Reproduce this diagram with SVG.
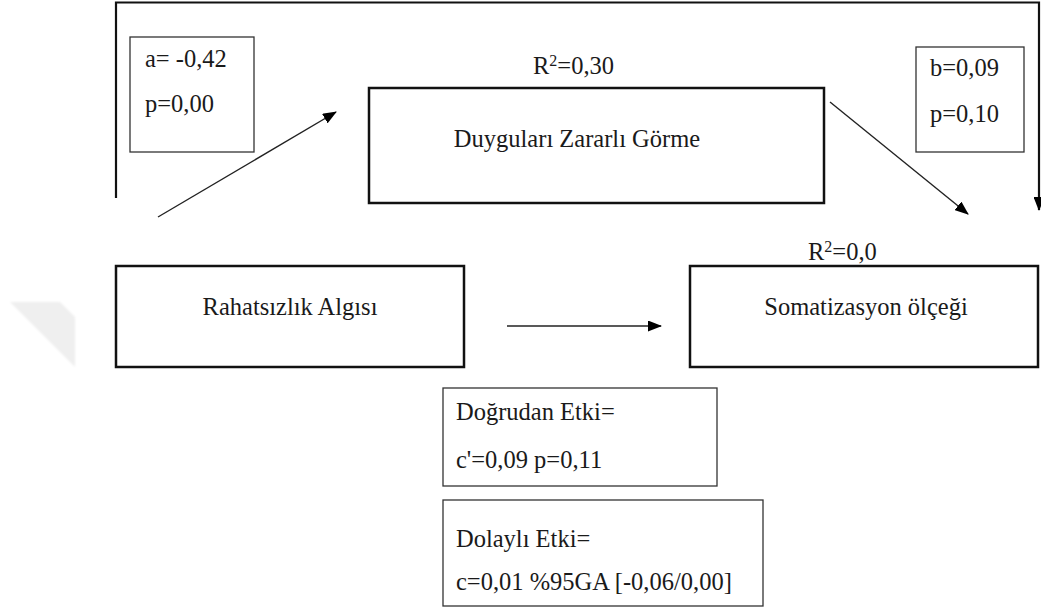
<svg xmlns="http://www.w3.org/2000/svg" width="1041" height="607" viewBox="0 0 1041 607">
  <style>
    text { font-family: "Liberation Serif", "Times New Roman", serif; font-size: 24.5px; fill: #1a1a1a; }
    .mid { text-anchor: middle; }
    .node { fill: #fff; stroke: #111; stroke-width: 2.5; }
    .stat { fill: #fff; stroke: #333; stroke-width: 1.3; }
    .frame { fill: none; stroke: #111; stroke-width: 2.2; }
    .link { fill: none; stroke: #222; stroke-width: 1.4; }
  </style>
  <defs>
    <marker id="head" viewBox="0 0 14 11" refX="13" refY="5.5" markerWidth="14" markerHeight="11" markerUnits="userSpaceOnUse" orient="auto">
      <path d="M0,0 L14,5.5 L0,11 Z" fill="#000"/>
    </marker>
    <filter id="soft" x="-10%" y="-10%" width="120%" height="120%">
      <feGaussianBlur stdDeviation="0.8"/>
    </filter>
  </defs>

  <rect width="1041" height="607" fill="#fff"/>

  <!-- faint corner mark on the left margin -->
  <polygon points="10,302 60,302 75,317 75,367" fill="#efefef" filter="url(#soft)"/>

  <!-- connectors -->
  <g id="connectors">
    <path class="frame" d="M116,198 V2.5 H1039 V210" marker-end="url(#head)"/>
    <line class="link" x1="158" y1="217" x2="336" y2="112" marker-end="url(#head)"/>
    <line class="link" x1="830" y1="102" x2="968" y2="214" marker-end="url(#head)"/>
    <line class="link" x1="507" y1="326" x2="661" y2="326" marker-end="url(#head)"/>
  </g>

  <!-- path a coefficients -->
  <g id="coef-a">
    <rect class="stat" x="130" y="37" width="124" height="115"/>
    <text x="145" y="67">a= -0,42</text>
    <text x="145" y="112">p=0,00</text>
  </g>

  <!-- mediator -->
  <g id="node-mediator">
    <text x="533" y="74">R<tspan font-size="16" dy="-8">2</tspan><tspan dy="8">=0,30</tspan></text>
    <rect class="node" x="369" y="88" width="455" height="115"/>
    <text x="577" y="147" class="mid">Duyguları Zararlı Görme</text>
  </g>

  <!-- path b coefficients -->
  <g id="coef-b">
    <rect class="stat" x="916" y="47" width="108" height="105"/>
    <text x="930" y="76">b=0,09</text>
    <text x="930" y="122">p=0,10</text>
  </g>

  <!-- predictor -->
  <g id="node-predictor">
    <rect class="node" x="116" y="266" width="348" height="101"/>
    <text x="290" y="315" class="mid">Rahatsızlık Algısı</text>
  </g>

  <!-- outcome -->
  <g id="node-outcome">
    <text x="808" y="260">R<tspan font-size="16" dy="-8">2</tspan><tspan dy="8">=0,0</tspan></text>
    <rect class="node" x="690" y="266" width="348" height="101"/>
    <text x="866" y="315" class="mid">Somatizasyon ölçeği</text>
  </g>

  <!-- direct effect -->
  <g id="direct-effect">
    <rect class="stat" x="443" y="388" width="274" height="98"/>
    <text x="456" y="420">Doğrudan Etki=</text>
    <text x="456" y="468">c'=0,09 p=0,11</text>
  </g>

  <!-- indirect effect -->
  <g id="indirect-effect">
    <rect class="stat" x="443" y="500" width="320" height="106"/>
    <text x="456" y="547">Dolaylı Etki=</text>
    <text x="456" y="590">c=0,01 %95GA [-0,06/0,00]</text>
  </g>
</svg>
